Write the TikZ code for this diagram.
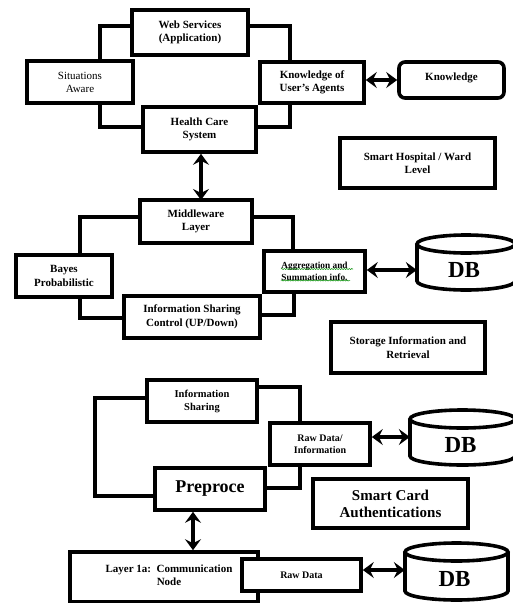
\documentclass[tikz,border=0pt]{standalone}
\usepackage{fontspec}
\setmainfont{Liberation Serif}
\usetikzlibrary{arrows.meta,decorations.pathmorphing}
\newcommand{\mydb}[5]{%
  \draw[box,fill=white] (#2,{#3+9}) -- (#2,{#5-9}) arc[start angle=180,end angle=0,x radius={(#4-#2)/2},y radius=9] -- (#4,{#3+9});
  \draw[box,fill=white] ({(#2+#4)/2},{#3+9}) ellipse[x radius={(#4-#2)/2},y radius=9];
  \node[inner sep=0pt,minimum width={(#4-#2)*1pt},minimum height={(#5-#3)*1pt}] (#1) at ({(#2+#4)/2},{(#3+#5)/2}) {};
  \node[inner sep=0pt,font=\fontsize{23}{25}\selectfont\bfseries] (#1t) at ({(#2+#4)/2-2},{(#3+#5)/2+7}) {DB};}
\begin{document}
\begin{tikzpicture}[x=1pt,y=-1pt,
  box/.style={draw=black,line width=3.6pt},
  bx/.style={box,fill=white,align=center,inner sep=1pt,font=\fontsize{11}{13.5}\selectfont\bfseries},
  conn/.style={line width=3.4pt,line join=miter},
  darr/.style={line width=3.4pt,{Stealth[length=11pt,width=16pt,inset=4pt]}-{Stealth[length=11pt,width=16pt,inset=4pt]}},
  squig/.style={draw=green!55!black,line width=0.5pt,decorate,decoration={snake,amplitude=0.6pt,segment length=2.5pt}}]
\useasboundingbox (0,0) rectangle (512,603);

% ---------- top level ----------
\draw[conn] (132,26) -| (100,61);
\draw[conn] (248,26) -| (290,62);
\draw[conn] (100,103) |- (143,127);
\draw[conn] (290,103) |- (256,127);

\node[bx,minimum width=116pt,minimum height=45pt] (ws) at (190,32.5) {Web Services\\(Application)};
\node[bx,minimum width=106pt,minimum height=42pt,font=\fontsize{11}{13}\selectfont] (sa) at (80,82) {Situations\\Aware};
\node[bx,minimum width=104pt,minimum height=41pt] (ku) at (312,82.5) {Knowledge of\\User's Agents};
\node[bx,minimum width=105pt,minimum height=36pt,rounded corners=6pt] (kb) at (451.5,80) {};
\node[font=\fontsize{11}{13}\selectfont\bfseries] (kbt) at (451.5,78) {Knowledge};
\node[bx,minimum width=113pt,minimum height=45pt] (hc) at (199.5,129.5) {Health Care\\System};
\node[bx,minimum width=155pt,minimum height=50pt] (sh) at (417.5,163) {Smart Hospital / Ward\\Level};

\draw[darr] (ku.east |- 0,80) -- (kb.west |- 0,80);
\draw[darr] (201,0 |- hc.south) -- (201,0 |- 0,200);

% ---------- middle level ----------
\draw[conn] (140,217) -| (80,255);
\draw[conn] (252,217) -| (293,251);
\draw[conn] (80,297) |- (124,318);
\draw[conn] (294,292) |- (260,315);

\node[bx,minimum width=112pt,minimum height=43pt] (mw) at (196,221.5) {Middleware\\Layer};
\node[bx,minimum width=96pt,minimum height=42pt] (bp) at (64,276) {Bayes\\Probabilistic};
\node[bx,minimum width=101pt,minimum height=41pt,font=\fontsize{9.3}{11.5}\selectfont\bfseries] (ag) at (314.5,271.5) {Aggregation and\\Summation info.};
\draw[squig] (281,269) -- (353,269);
\draw[squig] (281,280.5) -- (350,280.5);
\node[bx,minimum width=136pt,minimum height=42pt] (isc) at (192,317) {Information Sharing\\Control (UP/Down)};
\node[bx,minimum width=154pt,minimum height=51pt] (sir) at (408,347.5) {Storage Information and\\Retrieval};
\mydb{db1}{417}{235}{515}{290}
\draw[darr] (ag.east |- 0,270) -- (db1.west |- 0,270);

% ---------- bottom level ----------
\draw[conn] (147,398) -| (95,496) -- (155,496);
\draw[conn] (257,387) -| (300,423);
\draw[conn] (300,465) |- (265,488);

\node[bx,minimum width=110pt,minimum height=42pt,font=\fontsize{10.5}{13}\selectfont\bfseries] (is) at (202,401) {Information\\Sharing};
\node[bx,minimum width=100pt,minimum height=42pt,font=\fontsize{10}{12.5}\selectfont\bfseries] (rd) at (320,444) {Raw Data/\\Information};
\node[bx,minimum width=110pt,minimum height=42pt,font=\fontsize{18}{20}\selectfont\bfseries] (pp) at (210,489) {Preproce};
\node[bx,minimum width=155pt,minimum height=49pt,font=\fontsize{15}{17}\selectfont\bfseries] (sc) at (390.5,503.5) {Smart Card\\Authentications};
\mydb{db2}{410}{410}{515}{465}
\draw[darr] (rd.east |- 0,437) -- (db2.west |- 0,437);

\node[bx,minimum width=188pt,minimum height=50pt] (l1) at (164,577) {};
\node[font=\fontsize{11}{13}\selectfont\bfseries,align=center] (l1t) at (169,575) {Layer 1a:\ \ Communication\\Node};
\node[bx,minimum width=119pt,minimum height=32pt,font=\fontsize{10}{12}\selectfont\bfseries] (rw) at (301.5,575) {Raw Data};
\mydb{db3}{405}{543}{508}{600}
\draw[darr] (rw.east |- 0,570) -- (db3.west |- 0,570);
\draw[darr] (193,0 |- pp.south) -- (193,0 |- l1.north);
\end{tikzpicture}
\end{document}
